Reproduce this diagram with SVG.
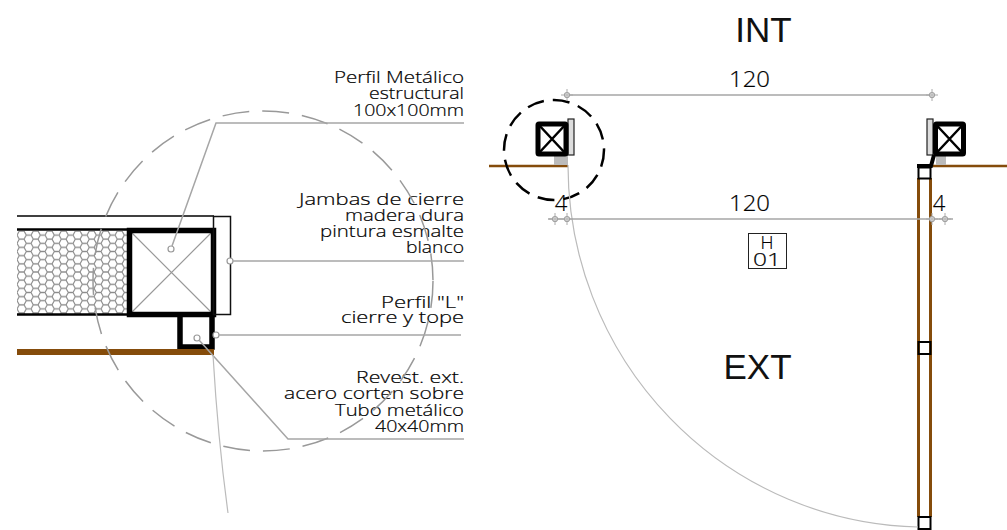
<svg xmlns="http://www.w3.org/2000/svg" width="1007" height="530" viewBox="0 0 1007 530">
<style>
.t{font-family:"Open Sans","Liberation Sans",sans-serif;font-weight:300;font-size:17px;fill:#000;text-anchor:end;stroke:#000;stroke-width:.2}
.d{font-family:"Open Sans","Liberation Sans",sans-serif;font-weight:300;font-size:22px;fill:#000;text-anchor:middle;stroke:#000;stroke-width:.2}
.b{font-family:"Liberation Sans",sans-serif;font-size:35px;fill:#111;text-anchor:middle}
.g{fill:none;stroke:#a6a6a6;stroke-width:1.5}
.k{fill:none;stroke:#000}
.o{fill:#fff;stroke:#999;stroke-width:1.2}
.br{stroke:#854c0b;fill:none}
</style>
<defs>
<pattern id="hex" x="17" y="231" width="14" height="8.2" patternUnits="userSpaceOnUse">
<path d="M0 4.1L2.33 0H7L9.33 4.1L7 8.2H2.33L0 4.1M9.33 4.1H14" fill="none" stroke="#8c8c8c" stroke-width="1.2"/>
</pattern>
<g id="tick"><circle r="2.5" class="o"/><path d="M-6 0H6M0-6V6" stroke="#aaa" stroke-width="1"/></g>
</defs>
<g id="detail-wall">
<rect x="17" y="231" width="111" height="83" fill="url(#hex)"/>
<path class="k" stroke-width="1.5" d="M17 216H214"/>
<path class="k" stroke-width="2.500" d="M17 229.500H128M17 314.500H128"/>
</g>
<g id="detail-profile">
<path d="M130 231L213 314M213 231L130 314" stroke="#999" stroke-width="1.2" fill="none"/>
<rect x="129.500" y="230.500" width="84" height="84" class="k" stroke-width="5.500"/>
<circle cx="171" cy="249" r="3" class="o"/>
</g>
<g id="detail-jamb">
<rect x="213.500" y="216.500" width="17" height="98" fill="none" stroke="#111" stroke-width="1.5"/>
<circle cx="230" cy="261" r="3" class="o"/>
</g>
<g id="detail-tube">
<path d="M180 316V347H212V316" class="k" stroke-width="5.500"/>
<path class="br" stroke-width="6" d="M17 352H214"/>
<circle cx="216" cy="335" r="3" class="o"/>
<circle cx="197" cy="338" r="3" class="o"/>
</g>
<g id="note-1"><text class="t" x="464" y="83" textLength="130" lengthAdjust="spacingAndGlyphs">Perfil Metálico</text><text class="t" x="464" y="99" textLength="95" lengthAdjust="spacingAndGlyphs">estructural</text><text class="t" x="464" y="116" textLength="111" lengthAdjust="spacingAndGlyphs">100x100mm</text></g>
<g id="note-2"><text class="t" x="464" y="205" textLength="165" lengthAdjust="spacingAndGlyphs">Jambas de cierre</text><text class="t" x="464" y="221" textLength="119" lengthAdjust="spacingAndGlyphs">madera dura</text><text class="t" x="464" y="237" textLength="144" lengthAdjust="spacingAndGlyphs">pintura esmalte</text><text class="t" x="464" y="253" textLength="58" lengthAdjust="spacingAndGlyphs">blanco</text></g>
<g id="note-3"><text class="t" x="464" y="308" textLength="83" lengthAdjust="spacingAndGlyphs">Perfil "L"</text><text class="t" x="464" y="323" textLength="123" lengthAdjust="spacingAndGlyphs">cierre y tope</text></g>
<g id="note-4"><text class="t" x="464" y="383" textLength="108" lengthAdjust="spacingAndGlyphs">Revest. ext.</text><text class="t" x="464" y="399" textLength="180" lengthAdjust="spacingAndGlyphs">acero corten sobre</text><text class="t" x="464" y="416" textLength="129" lengthAdjust="spacingAndGlyphs">Tubo metálico</text><text class="t" x="464" y="432" textLength="89" lengthAdjust="spacingAndGlyphs">40x40mm</text></g>
<g id="left-post">
<path class="br" stroke-width="2.500" d="M489 166H568"/>
<rect x="554" y="154" width="14" height="11" fill="#bbb"/>
<rect x="568" y="119" width="6" height="36" fill="#ddd" stroke="#222" stroke-width="1.200"/>
<rect x="538" y="124" width="28" height="30" class="k" stroke-width="5" fill="#fff" rx="1"/>
<path class="k" stroke-width="2.500" d="M538 124L566 154M566 124L538 154"/>
<circle cx="554" cy="150" r="50" fill="none" stroke="#000" stroke-width="2.500" stroke-dasharray="17 9"/>
</g>
<g id="right-post">
<path class="br" stroke-width="2.500" d="M933 166H1007"/>
<rect x="936" y="155" width="10" height="10" fill="#bbb"/>
<rect x="927" y="119" width="6" height="36" fill="#ddd" stroke="#222" stroke-width="1.200"/>
<rect x="935.500" y="124" width="28" height="30" class="k" stroke-width="5" fill="#fff" rx="1"/>
<path class="k" stroke-width="2.500" d="M935.500 124L963.500 154M963.500 124L935.500 154"/>
<path class="k" stroke-width="4" d="M934 155L931 166H917"/>
</g>
<g id="door">
<path class="br" stroke-width="3" d="M918.500 178V517M930.500 178V517"/>
<rect x="918.500" y="167.500" width="12" height="11" class="k" stroke-width="2"/>
<rect x="918.500" y="342" width="12" height="12" class="k" stroke-width="2" fill="#fff"/>
<rect x="918.500" y="517" width="12" height="12" class="k" stroke-width="2" fill="#fff"/>
</g>
<g id="connectors">
<circle cx="263" cy="281" r="170" fill="none" stroke="#999" stroke-width="1.5" stroke-dasharray="27 13"/>
<path class="g" d="M172 246L216 123H464M233 261H464M219 335H461M199 340L288 439H464"/>
<path d="M213 355Q218 440 228 513" fill="none" stroke="#bbb" stroke-width="1.2"/>
<path d="M568 165A358 362 0 0 0 918 527" fill="none" stroke="#bbb" stroke-width="1.2"/>
<path class="g" d="M567 95H932M548 219H953"/>
</g>
<g id="dims">
<use href="#tick" x="567" y="95"/><use href="#tick" x="932" y="95"/>
<use href="#tick" x="555" y="219"/><use href="#tick" x="567" y="219"/><use href="#tick" x="932" y="219"/><use href="#tick" x="945" y="219"/>
<text class="d" x="749.500" y="87" textLength="41" lengthAdjust="spacingAndGlyphs">120</text><text class="d" x="749.500" y="211" textLength="41" lengthAdjust="spacingAndGlyphs">120</text>
<text class="d" x="561" y="211">4</text><text class="d" x="939" y="211">4</text>
</g>
<g id="tag-H01">
<rect x="748.500" y="233.500" width="38" height="35" fill="none" stroke="#222" stroke-width="1"/>
<text class="d" x="767" y="249" style="font-size:18px">H</text><text class="d" x="767" y="266" style="font-size:19px" textLength="28" lengthAdjust="spacingAndGlyphs">01</text>
</g>
<text class="b" x="763.500" y="42">INT</text>
<text class="b" x="757.500" y="379">EXT</text>
</svg>
